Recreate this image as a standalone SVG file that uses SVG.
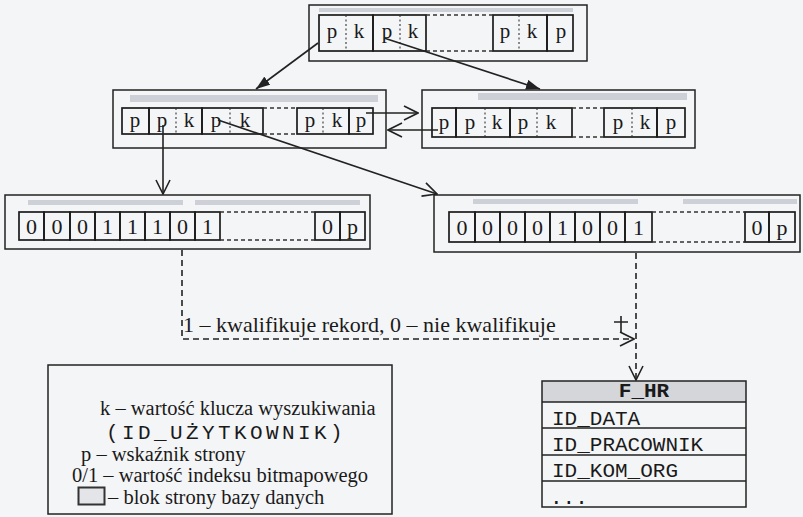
<svg xmlns="http://www.w3.org/2000/svg" width="803" height="517" viewBox="0 0 803 517">
  <defs>
    <style>
      .box{fill:none;stroke:#222;stroke-width:1.5}
      .cell{fill:none;stroke:#1c1c1c;stroke-width:1.7}
      .div{stroke:#333;stroke-width:1.1;stroke-dasharray:2 2.5}
      .cont{stroke:#333;stroke-width:1.3;stroke-dasharray:4 3}
      .strip{fill:#cdd0d6}
      .t{font-family:"Liberation Serif","Times New Roman",serif;font-size:21px;fill:#1a1a1a;text-anchor:middle}
      .d{font-size:22px}
      .lbl{font-family:"Liberation Serif","Times New Roman",serif;font-size:22px;fill:#1a1a1a}
      .leg{font-size:20.5px}
      .mono{font-family:"Liberation Mono","Courier New",monospace;font-size:21px;fill:#1a1a1a}
      .link{stroke:#222;stroke-width:1.6;fill:none}
      .dash{stroke-dasharray:6 4}
    </style>
    <marker id="solid" viewBox="0 0 14 10" refX="14" refY="5" markerWidth="14" markerHeight="10" markerUnits="userSpaceOnUse" orient="auto">
      <path d="M0,0 L14,5 L0,10 z" fill="#222"/>
    </marker>
    <marker id="open" viewBox="0 0 16 16" refX="15" refY="8" markerWidth="16" markerHeight="16" markerUnits="userSpaceOnUse" orient="auto">
      <path d="M1,1 L15,8 L1,15" fill="none" stroke="#222" stroke-width="1.6"/>
    </marker>
  </defs>

  <rect width="803" height="517" fill="#f4f5f7"/>

  <!-- root page of the B-tree -->
  <g id="root">
    <rect class="box" x="309" y="5" width="278" height="56"/>
    <rect class="strip" x="319" y="8" width="254" height="4"/>
    <rect class="cell" x="319" y="15" width="54" height="36"/>
    <rect class="cell" x="373" y="15" width="53" height="36"/>
    <rect class="cell" x="493" y="15" width="54" height="36"/>
    <rect class="cell" x="547" y="15" width="26" height="36"/>
    <line class="div" x1="346" y1="15" x2="346" y2="51"/>
    <line class="div" x1="400" y1="15" x2="400" y2="51"/>
    <line class="div" x1="519" y1="15" x2="519" y2="51"/>
    <line class="cont" x1="426" y1="15" x2="493" y2="15"/>
    <line class="cont" x1="426" y1="51" x2="493" y2="51"/>
    <text class="t" x="332" y="38">p</text>
    <text class="t" x="359" y="38">k</text>
    <text class="t" x="387" y="38">p</text>
    <text class="t" x="413" y="38">k</text>
    <text class="t" x="505" y="38">p</text>
    <text class="t" x="532" y="38">k</text>
    <text class="t" x="561" y="38">p</text>
  </g>

  <!-- left leaf page -->
  <g id="leaf-left">
    <rect class="box" x="113" y="90" width="273" height="58"/>
    <rect class="strip" x="130" y="95" width="248" height="7"/>
    <rect class="cell" x="122" y="108" width="27" height="26"/>
    <rect class="cell" x="149" y="108" width="53" height="26"/>
    <rect class="cell" x="202" y="108" width="61" height="26"/>
    <rect class="cell" x="297" y="108" width="52" height="26"/>
    <rect class="cell" x="349" y="108" width="24" height="26"/>
    <line class="div" x1="176" y1="108" x2="176" y2="134"/>
    <line class="div" x1="230" y1="108" x2="230" y2="134"/>
    <line class="div" x1="323" y1="108" x2="323" y2="134"/>
    <line class="cont" x1="263" y1="108" x2="297" y2="108"/>
    <line class="cont" x1="263" y1="134" x2="297" y2="134"/>
    <text class="t" x="135" y="127">p</text>
    <text class="t" x="162" y="127">p</text>
    <text class="t" x="189" y="127">k</text>
    <text class="t" x="216" y="127">p</text>
    <text class="t" x="245" y="127">k</text>
    <text class="t" x="310" y="127">p</text>
    <text class="t" x="337" y="127">k</text>
    <text class="t" x="361" y="127">p</text>
  </g>

  <!-- right leaf page -->
  <g id="leaf-right">
    <rect class="box" x="422" y="90" width="273" height="58"/>
    <rect class="strip" x="478" y="93" width="209" height="7"/>
    <rect class="cell" x="432" y="108" width="24" height="29"/>
    <rect class="cell" x="456" y="108" width="54" height="29"/>
    <rect class="cell" x="510" y="108" width="62" height="29"/>
    <rect class="cell" x="604" y="108" width="53" height="29"/>
    <rect class="cell" x="657" y="108" width="28" height="29"/>
    <line class="div" x1="485" y1="108" x2="485" y2="137"/>
    <line class="div" x1="537" y1="108" x2="537" y2="137"/>
    <line class="div" x1="632" y1="108" x2="632" y2="137"/>
    <line class="cont" x1="572" y1="108" x2="604" y2="108"/>
    <line class="cont" x1="572" y1="137" x2="604" y2="137"/>
    <text class="t" x="444" y="129">p</text>
    <text class="t" x="470" y="129">p</text>
    <text class="t" x="497" y="129">k</text>
    <text class="t" x="523" y="129">p</text>
    <text class="t" x="551" y="129">k</text>
    <text class="t" x="618" y="129">p</text>
    <text class="t" x="645" y="129">k</text>
    <text class="t" x="671" y="129">p</text>
  </g>

  <!-- left bitmap page -->
  <g id="bitmap-left">
    <rect class="box" x="5" y="195" width="365" height="54"/>
    <rect class="strip" x="28" y="200" width="155" height="5"/>
    <rect class="strip" x="195" y="200" width="165" height="5"/>
    <rect class="cell" x="19" y="212" width="25" height="28"/>
    <rect class="cell" x="44" y="212" width="26" height="28"/>
    <rect class="cell" x="70" y="212" width="25" height="28"/>
    <rect class="cell" x="95" y="212" width="25" height="28"/>
    <rect class="cell" x="120" y="212" width="25" height="28"/>
    <rect class="cell" x="145" y="212" width="25" height="28"/>
    <rect class="cell" x="170" y="212" width="25" height="28"/>
    <rect class="cell" x="195" y="212" width="25" height="28"/>
    <rect class="cell" x="315" y="212" width="25" height="28"/>
    <rect class="cell" x="340" y="212" width="25" height="28"/>
    <line class="cont" x1="220" y1="212" x2="315" y2="212"/>
    <line class="cont" x1="220" y1="240" x2="315" y2="240"/>
    <text class="t d" x="31.5" y="234">0</text>
    <text class="t d" x="57" y="234">0</text>
    <text class="t d" x="82.5" y="234">0</text>
    <text class="t d" x="107.5" y="234">1</text>
    <text class="t d" x="132.5" y="234">1</text>
    <text class="t d" x="157.5" y="234">1</text>
    <text class="t d" x="182.5" y="234">0</text>
    <text class="t d" x="207.5" y="234">1</text>
    <text class="t d" x="327.5" y="234">0</text>
    <text class="t d" x="352.5" y="234">p</text>
  </g>

  <!-- right bitmap page -->
  <g id="bitmap-right">
    <rect class="box" x="434" y="195" width="366" height="57"/>
    <rect class="strip" x="473" y="199" width="165" height="5"/>
    <rect class="strip" x="683" y="199" width="114" height="5"/>
    <rect class="cell" x="449" y="212" width="26" height="30"/>
    <rect class="cell" x="475" y="212" width="25" height="30"/>
    <rect class="cell" x="500" y="212" width="25" height="30"/>
    <rect class="cell" x="525" y="212" width="25" height="30"/>
    <rect class="cell" x="550" y="212" width="25" height="30"/>
    <rect class="cell" x="575" y="212" width="25" height="30"/>
    <rect class="cell" x="600" y="212" width="25" height="30"/>
    <rect class="cell" x="625" y="212" width="27" height="30"/>
    <rect class="cell" x="745" y="212" width="24" height="30"/>
    <rect class="cell" x="769" y="212" width="26" height="30"/>
    <line class="cont" x1="652" y1="212" x2="745" y2="212"/>
    <line class="cont" x1="652" y1="242" x2="745" y2="242"/>
    <text class="t d" x="462" y="235">0</text>
    <text class="t d" x="487.5" y="235">0</text>
    <text class="t d" x="512.5" y="235">0</text>
    <text class="t d" x="537.5" y="235">0</text>
    <text class="t d" x="562.5" y="235">1</text>
    <text class="t d" x="587.5" y="235">0</text>
    <text class="t d" x="612.5" y="235">0</text>
    <text class="t d" x="638.5" y="235">1</text>
    <text class="t d" x="757" y="235">0</text>
    <text class="t d" x="782" y="235">p</text>
  </g>

  <!-- fact table -->
  <g id="f-hr">
    <rect x="542" y="381" width="204" height="21" fill="#d4d6da"/>
    <rect class="box" x="542" y="381" width="204" height="126"/>
    <line class="box" x1="542" y1="402" x2="746" y2="402"/>
    <line class="box" x1="542" y1="428" x2="746" y2="428"/>
    <line class="box" x1="542" y1="455" x2="746" y2="455"/>
    <line class="box" x1="542" y1="481" x2="746" y2="481"/>
    <text class="mono" x="644" y="397" text-anchor="middle" font-weight="bold" font-size="20">F_HR</text>
    <text class="mono" x="552" y="425">ID_DATA</text>
    <text class="mono" x="552" y="451">ID_PRACOWNIK</text>
    <text class="mono" x="552" y="477">ID_KOM_ORG</text>
    <text class="mono" x="550" y="504" font-size="11">...</text>
  </g>

  <!-- legend -->
  <g id="legend">
    <rect class="box" x="48" y="365" width="344" height="149"/>
    <text class="lbl leg" x="100" y="415">k – wartość klucza wyszukiwania</text>
    <text class="mono" x="106" y="439" font-size="19" letter-spacing="3.4">(ID_UŻYTKOWNIK)</text>
    <text class="lbl leg" x="81" y="461">p – wskaźnik strony</text>
    <text class="lbl leg" x="72" y="482">0/1 – wartość indeksu bitmapowego</text>
    <rect x="78.5" y="487.5" width="26" height="17" fill="#e3e5e9" stroke="#333" stroke-width="2"/>
    <text class="lbl leg" x="108" y="504">– blok strony bazy danych</text>
  </g>

  <!-- connectors -->
  <g id="connectors">
    <line class="link" x1="318" y1="43" x2="256" y2="89" marker-end="url(#solid)"/>
    <line class="link" x1="384" y1="38" x2="540" y2="89" marker-end="url(#solid)"/>
    <line class="link" x1="366" y1="113" x2="418" y2="113" marker-end="url(#open)"/>
    <line class="link" x1="438" y1="130" x2="388" y2="130" marker-end="url(#open)"/>
    <line class="link" x1="163" y1="125" x2="163" y2="194" marker-end="url(#open)"/>
    <line class="link" x1="218" y1="120" x2="437" y2="194" marker-end="url(#open)"/>
    <polyline class="link dash" points="182,250 182,339 634,339" marker-end="url(#open)"/>
    <line class="link dash" x1="636" y1="253" x2="636" y2="380" marker-end="url(#open)"/>
    <path class="link" d="M614,322 H628 M621,316 V332"/>
    <text class="lbl" x="183" y="332">1 – kwalifikuje rekord, 0 – nie kwalifikuje</text>
  </g>
</svg>
